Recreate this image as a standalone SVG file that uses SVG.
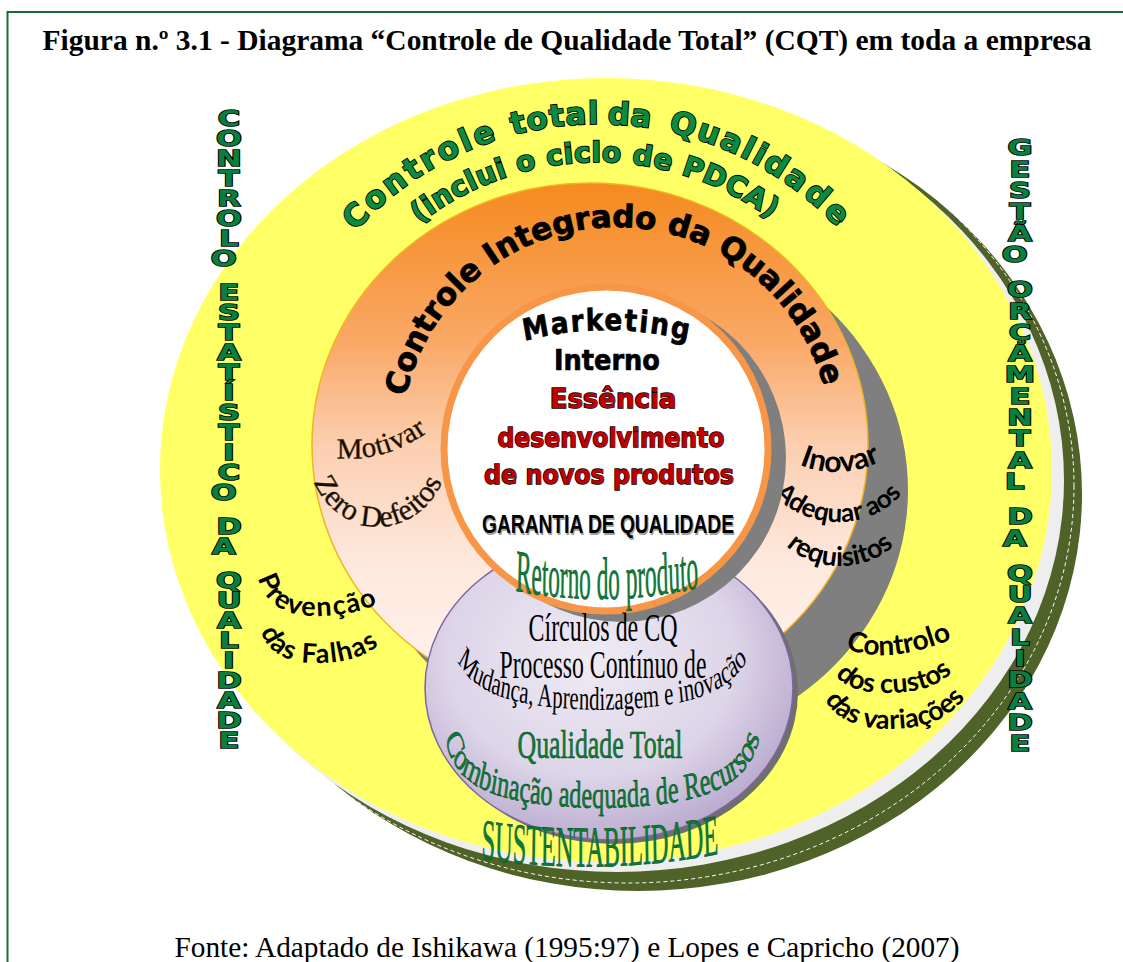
<svg xmlns="http://www.w3.org/2000/svg" width="1123" height="962" viewBox="0 0 1123 962">
<defs>
  <style>
    .serif { font-family: "Liberation Serif", "Times New Roman", serif; }
    .heavy { font-family: "DejaVu Sans", sans-serif; font-weight: bold; }
    .calib { font-family: Lato, "Open Sans", sans-serif; font-weight: bold; fill: #000; }
    .vert { font-family: "DejaVu Sans", sans-serif; font-weight: bold; font-size: 21px; fill: #07803F; stroke: #000; stroke-width: 1.6; paint-order: stroke; text-anchor: middle; }
    .arcgreen { fill: #0C8A40; stroke: #000; stroke-width: 1.8; paint-order: stroke; }
    .red { fill: #C00000; stroke: #000; stroke-width: 1.4; paint-order: stroke; }
    .green { fill: #0B7C37; stroke: #064A20; stroke-width: 0.6; }
    .brown { fill: #140E04; stroke: #3A2A0A; stroke-width: 0.4; }
  </style>
  <linearGradient id="orangeFill" gradientUnits="userSpaceOnUse" x1="0" y1="183" x2="0" y2="707">
    <stop offset="0" stop-color="#F58A1F"/>
    <stop offset="0.3" stop-color="#F9A865"/>
    <stop offset="0.5" stop-color="#FCCFB0"/>
    <stop offset="0.72" stop-color="#FEE8DD"/>
    <stop offset="1" stop-color="#FFF6F2"/>
  </linearGradient>
  <radialGradient id="lilacFill" cx="0.45" cy="0.4" r="0.65">
    <stop offset="0" stop-color="#EFEBF5"/>
    <stop offset="0.6" stop-color="#DDD5E8"/>
    <stop offset="1" stop-color="#B4A3CB"/>
  </radialGradient>
  <clipPath id="oliveClip"><ellipse cx="638" cy="494" rx="444" ry="397"/></clipPath>

  <!-- text baselines -->
  <path id="pOuter1" d="M 270 452 A 328 328 0 0 1 926 452"/>
  <path id="pOuter2" d="M 308 452 A 290 290 0 0 1 888 452"/>
  <path id="pRing" d="M 401 442 A 215 215 0 0 1 831 442"/>
  <path id="pMkt" d="M 196 741 A 411 411 0 0 1 1018 741"/>
  <path id="pRetorno" d="M 300 584 Q 607 616 914 580"/>
  <path id="pMudanca" d="M 362 630 C 370 690 441 708 600 710 C 759 708 835 690 848 630"/>
  <path id="pComb" d="M 355 712 L 358 735 C 369 790 444 806 600 808 C 756 806 834 790 850 735 L 853 712"/>
  <path id="pSust" d="M 230 852 Q 600 884 970 846"/>
  <path id="pMotivar" d="M 324 456 Q 385 468 438 424"/>
  <path id="pZero" d="M 306 445 A 72 82 0 0 0 450 445"/>
  <path id="pInovar" d="M 782 456 Q 838 490 898 452"/>
  <path id="pAdequar" d="M 763 462 A 75 60 0 0 0 913 462"/>
  <path id="pRequis" d="M 768 506 A 72 60 0 0 0 912 506"/>
  <path id="pPrev" d="M 256 566 C 260 608 290 617 320 616 S 378 610 402 586"/>
  <path id="pFalhas" d="M 258 618 C 262 655 290 664 320 663 S 374 656 402 624"/>
  <path id="pCtrl1" d="M 834 642 Q 880 672 964 634"/>
  <path id="pCtrl2" d="M 826 652 C 830 686 860 694 890 693 S 948 687 968 652"/>
  <path id="pCtrl3" d="M 818 676 C 822 717 856 730 892 729 S 954 720 980 678"/>
</defs>

<rect x="0" y="0" width="1123" height="962" fill="#FFFFFF"/>

<!-- frame -->
<path d="M 1123 12 H 7.5 V 962" fill="none" stroke="#1E6B32" stroke-width="2"/>

<!-- caption -->
<g id="title">
  <text class="serif" x="567" y="50" font-size="29.3" font-weight="bold" text-anchor="middle" textLength="1049" lengthAdjust="spacingAndGlyphs">Figura n.º 3.1 - Diagrama “Controle de Qualidade Total” (CQT) em toda a empresa</text>
</g>
<g id="source">
  <text class="serif" x="567" y="957" font-size="29" text-anchor="middle" textLength="785" lengthAdjust="spacingAndGlyphs">Fonte: Adaptado de Ishikawa (1995:97) e Lopes e Capricho (2007)</text>
</g>

<!-- outer yellow disc with olive rim -->
<g id="outer-disc">
  <ellipse cx="638" cy="494" rx="444" ry="397" fill="#4F6228"/>
  <ellipse cx="628" cy="486" rx="446" ry="397" fill="none" stroke="#FFFFFF" stroke-width="1" stroke-dasharray="4 3" clip-path="url(#oliveClip)"/>
  <ellipse cx="617" cy="480" rx="447" ry="392" fill="#EEEEEE"/>
  <ellipse cx="606" cy="470" rx="446" ry="392" fill="#FFFF66"/>
</g>

<!-- left column -->
<g id="left-label" transform="translate(229 0) scale(1.45 1)">
  <text class="vert">
    <tspan x="0" y="126.5">C</tspan><tspan x="0" y="146.5">O</tspan><tspan x="0" y="166.5">N</tspan><tspan x="0" y="186.5">T</tspan><tspan x="0" y="206.5">R</tspan><tspan x="0" y="226.5">O</tspan><tspan x="0" y="246.5">L</tspan><tspan x="0" y="266.5">O</tspan>
    <tspan x="0" y="300.5">E</tspan><tspan x="0" y="320.5">S</tspan><tspan x="0" y="340.5">T</tspan><tspan x="0" y="360.5">A</tspan><tspan x="0" y="380.5">T</tspan><tspan x="0" y="400.5">Í</tspan><tspan x="0" y="420.5">S</tspan><tspan x="0" y="440.5">T</tspan><tspan x="0" y="460.5">I</tspan><tspan x="0" y="480.5">C</tspan><tspan x="0" y="500.5">O</tspan>
    <tspan x="0" y="534.5">D</tspan><tspan x="0" y="554.5">A</tspan>
    <tspan x="0" y="588.5">Q</tspan><tspan x="0" y="608.5">U</tspan><tspan x="0" y="628.5">A</tspan><tspan x="0" y="648.5">L</tspan><tspan x="0" y="668.5">I</tspan><tspan x="0" y="688.5">D</tspan><tspan x="0" y="708.5">A</tspan><tspan x="0" y="728.5">D</tspan><tspan x="0" y="748.5">E</tspan>
  </text>
</g>

<!-- right column -->
<g id="right-label" transform="translate(1020 0) scale(1.45 1)">
  <text class="vert">
    <tspan x="0" y="155.5">G</tspan><tspan x="0" y="176.8">E</tspan><tspan x="0" y="198.1">S</tspan><tspan x="0" y="219.4">T</tspan><tspan x="0" y="240.7">Ã</tspan><tspan x="0" y="262">O</tspan>
    <tspan x="0" y="297.3">O</tspan><tspan x="0" y="318.6">R</tspan><tspan x="0" y="339.9">Ç</tspan><tspan x="0" y="361.2">A</tspan><tspan x="0" y="382.5">M</tspan><tspan x="0" y="403.8">E</tspan><tspan x="0" y="425.1">N</tspan><tspan x="0" y="446.4">T</tspan><tspan x="0" y="467.7">A</tspan><tspan x="0" y="489">L</tspan>
    <tspan x="0" y="524.3">D</tspan><tspan x="0" y="545.6">A</tspan>
    <tspan x="0" y="580.9">Q</tspan><tspan x="0" y="602.2">U</tspan><tspan x="0" y="623.5">A</tspan><tspan x="0" y="644.8">L</tspan><tspan x="0" y="666.1">I</tspan><tspan x="0" y="687.4">D</tspan><tspan x="0" y="708.7">A</tspan><tspan x="0" y="730">D</tspan><tspan x="0" y="751.3">E</tspan>
  </text>
</g>

<!-- outer ring heading -->
<g id="outer-heading" class="heavy arcgreen" font-size="31">
  <text letter-spacing="3"><textPath href="#pOuter1" startOffset="31.9%" text-anchor="middle">Controle</textPath></text>
  <text letter-spacing="1"><textPath href="#pOuter1" startOffset="45.9%" text-anchor="middle">total</textPath></text>
  <text><textPath href="#pOuter1" startOffset="53%" text-anchor="middle">da</textPath></text>
  <text letter-spacing="2"><textPath href="#pOuter1" startOffset="62.9%" text-anchor="middle">Qualid</textPath></text>
  <text><textPath href="#pOuter1" startOffset="70%" text-anchor="middle">a</textPath></text>
  <text><textPath href="#pOuter1" startOffset="72.5%" text-anchor="middle">d</textPath></text>
  <text><textPath href="#pOuter1" startOffset="75%" text-anchor="middle">e</textPath></text>
  <text font-size="28" letter-spacing="0.5"><textPath href="#pOuter2" startOffset="49.6%" text-anchor="middle">(inclui o ciclo de PDCA)</textPath></text>
</g>

<!-- integrated control ring -->
<g id="integrated-ring">
  <ellipse cx="632" cy="490" rx="276" ry="258" fill="#7F7F7F"/>
  <ellipse cx="590" cy="445" rx="278" ry="262" fill="url(#orangeFill)" stroke="#F2B320" stroke-width="1.5"/>
  <text class="heavy" font-size="31" fill="#000" stroke="#000" stroke-width="0.9"><textPath href="#pRing" startOffset="49.2%" text-anchor="middle">Controle Integrado da Qualidade</textPath></text>
</g>

<!-- ring side labels -->
<g id="motivar">
  <text class="serif brown" font-size="29" letter-spacing="0.5"><textPath href="#pMotivar" startOffset="50%" text-anchor="middle">Motivar</textPath></text>
  <text class="serif brown" font-size="30"><textPath href="#pZero" startOffset="50%" text-anchor="middle">Zero Defeitos</textPath></text>
</g>
<g id="inovar">
  <text class="calib" font-size="30"><textPath href="#pInovar" startOffset="50%" text-anchor="middle">Inovar</textPath></text>
  <text class="calib" font-size="26"><textPath href="#pAdequar" startOffset="50%" text-anchor="middle">Adequar aos</textPath></text>
  <text class="calib" font-size="27"><textPath href="#pRequis" startOffset="50%" text-anchor="middle">requisitos</textPath></text>
</g>
<g id="prevencao">
  <text class="calib" font-size="27" letter-spacing="1.6"><textPath href="#pPrev" startOffset="12">Prevenção</textPath></text>
  <text class="calib" font-size="27" letter-spacing="1.4"><textPath href="#pFalhas" startOffset="14">das Falhas</textPath></text>
</g>
<g id="controlo-custos">
  <text class="calib" font-size="28"><textPath href="#pCtrl1" startOffset="50%" text-anchor="middle">Controlo</textPath></text>
  <text class="calib" font-size="27"><textPath href="#pCtrl2" startOffset="50%" text-anchor="middle">dos custos</textPath></text>
  <text class="calib" font-size="27"><textPath href="#pCtrl3" startOffset="50%" text-anchor="middle">das variações</textPath></text>
</g>

<!-- total quality disc -->
<g id="total-quality">
  <ellipse cx="614" cy="692" rx="184" ry="152" fill="#6F6F6F"/>
  <ellipse cx="609" cy="688" rx="184" ry="152" fill="url(#lilacFill)" stroke="#7E65A0" stroke-width="1.5"/>
</g>

<!-- core -->
<g id="core">
  <circle cx="622" cy="458" r="164" fill="#7F7F7F"/>
  <circle cx="606" cy="449" r="162" fill="#FFFFFF" stroke="#F79646" stroke-width="7"/>
  <g transform="translate(607 0) scale(0.88 1) translate(-607 0)">
    <text class="heavy" font-size="30" fill="#000" stroke="#000" stroke-width="0.7" letter-spacing="2"><textPath href="#pMkt" startOffset="50%" text-anchor="middle">Marketing</textPath></text>
  </g>
  <text class="heavy" x="607" y="370" font-size="29" fill="#000" stroke="#000" stroke-width="0.7" text-anchor="middle" textLength="106" lengthAdjust="spacingAndGlyphs">Interno</text>
  <text class="heavy red" x="613" y="408" font-size="26" text-anchor="middle">Essência</text>
  <text class="heavy red" x="611" y="447" font-size="26" text-anchor="middle" textLength="227" lengthAdjust="spacingAndGlyphs">desenvolvimento</text>
  <text class="heavy red" x="609" y="484" font-size="26" text-anchor="middle" textLength="250" lengthAdjust="spacingAndGlyphs">de novos produtos</text>
  <text x="609" y="535" font-family="Liberation Sans, Arial, sans-serif" font-weight="bold" font-size="25" fill="#A0A0A0" text-anchor="middle" textLength="252" lengthAdjust="spacingAndGlyphs">GARANTIA DE QUALIDADE</text>
  <text x="608" y="533" font-family="Liberation Sans, Arial, sans-serif" font-weight="bold" font-size="25" fill="#000" text-anchor="middle" textLength="252" lengthAdjust="spacingAndGlyphs">GARANTIA DE QUALIDADE</text>
  <g transform="translate(607 0) scale(0.39 1) translate(-607 0)">
    <text class="serif green" font-size="60"><textPath href="#pRetorno" startOffset="50%" text-anchor="middle">Retorno do produto</textPath></text>
  </g>
</g>

<!-- texts in the total quality disc -->
<g id="total-quality-text">
  <text class="serif" x="603" y="641" font-size="39" fill="#000" text-anchor="middle" textLength="149" lengthAdjust="spacingAndGlyphs">Círculos de CQ</text>
  <text class="serif" x="603" y="678" font-size="39" fill="#000" text-anchor="middle" textLength="207" lengthAdjust="spacingAndGlyphs">Processo Contínuo de</text>
  <g transform="translate(600 0) scale(0.63 1) translate(-600 0)">
    <text class="serif" font-size="33" fill="#000"><textPath href="#pMudanca" startOffset="50%" text-anchor="middle">Mudança, Aprendizagem e inovação</textPath></text>
  </g>
  <text class="serif green" x="600" y="758" font-size="41" text-anchor="middle" textLength="165" lengthAdjust="spacingAndGlyphs">Qualidade Total</text>
  <g transform="translate(600 0) scale(0.64 1) translate(-600 0)">
    <text class="serif green" font-size="38"><textPath href="#pComb" startOffset="50%" text-anchor="middle">Combinação adequada de Recursos</textPath></text>
  </g>
  <g transform="translate(600 0) scale(0.42 1) translate(-600 0)">
    <text class="serif green" font-size="58"><textPath href="#pSust" startOffset="50%" text-anchor="middle">SUSTENTABILIDADE</textPath></text>
  </g>
</g>
</svg>
